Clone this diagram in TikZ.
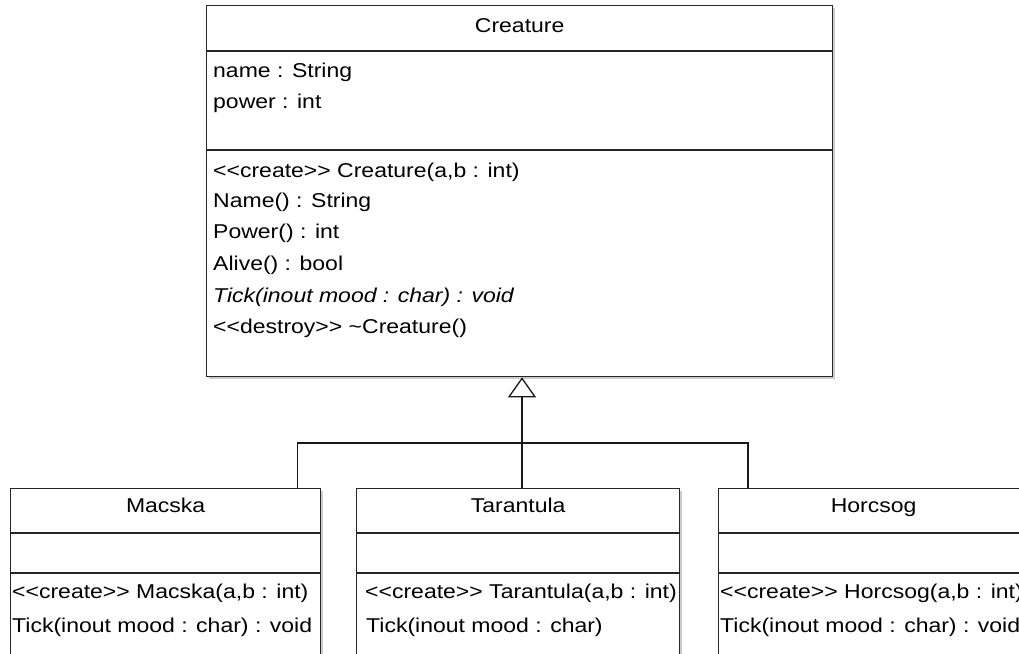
\documentclass[tikz,border=0pt]{standalone}
\usepackage{fontspec}
\setmainfont{Liberation Sans}[FakeStretch=1.15]
\usetikzlibrary{arrows.meta,shadows,calc}
% stereotype in angle brackets, kerned so the brackets never merge into guillemets
\newcommand\stereo[1]{<\kern0pt<#1>\kern0pt>}
\begin{document}
\begin{tikzpicture}[x=1pt,y=-1pt,
  font=\fontsize{20}{24}\selectfont,
  classbox/.style={draw=black!85, line width=1.3pt, fill=white, inner sep=0pt,
    anchor=north west,
    drop shadow={shadow xshift=2pt, shadow yshift=-2pt, fill=black!40, opacity=0.5}},
  compart/.style={draw=black!85, line width=1.3pt},
  title/.style={inner sep=0pt, text height=14pt, text depth=4pt},
  member/.style={anchor=west, inner sep=0pt, text height=14pt, text depth=4pt},
  edge/.style={draw=black!90, line width=1.3pt},
  gen/.style={edge, -{Triangle[open, length=20pt, width=28pt, line width=1.3pt]}}]
\useasboundingbox (0,0) rectangle (1019,653);
\clip (0,0) rectangle (1019,653);

% ---------- base class ----------
\node[classbox, minimum width=626pt, minimum height=371pt] (creature) at (206,5) {};
\draw[compart] ($(creature.north west)+(0,46)$) -- ($(creature.north east)+(0,46)$);
\draw[compart] ($(creature.north west)+(0,145)$) -- ($(creature.north east)+(0,145)$);
\node[title] (creature-title) at ($(creature.north)+(0,22)$) {Creature};
\node[member] (c-a1) at (213,72)  {name : String};
\node[member] (c-a2) at (213,103) {power : int};
\node[member] (c-m1) at (213,172) {\stereo{create} Creature(a,b : int)};
\node[member] (c-m2) at (213,202) {Name() : String};
\node[member] (c-m3) at (213,233) {Power() : int};
\node[member] (c-m4) at (213,265) {Alive() : bool};
\node[member] (c-m5) at (213,297) {\itshape Tick(inout mood : char) : void};
\node[member] (c-m6) at (213,328) {\stereo{destroy} \textasciitilde Creature()};

% ---------- derived classes ----------
\node[classbox, minimum width=310pt, minimum height=220pt] (macska) at (10,488) {};
\draw[compart] ($(macska.north west)+(0,45)$) -- ($(macska.north east)+(0,45)$);
\draw[compart] ($(macska.north west)+(0,85)$) -- ($(macska.north east)+(0,85)$);
\node[title] (macska-title) at ($(macska.north)+(0,19)$) {Macska};
\node[member] (m-m1) at (12,593) {\stereo{create} Macska(a,b : int)};
\node[member] (m-m2) at (12,627) {Tick(inout mood : char) : void};

\node[classbox, minimum width=323pt, minimum height=220pt] (tarantula) at (356,488) {};
\draw[compart] ($(tarantula.north west)+(0,45)$) -- ($(tarantula.north east)+(0,45)$);
\draw[compart] ($(tarantula.north west)+(0,85)$) -- ($(tarantula.north east)+(0,85)$);
\node[title] (tarantula-title) at ($(tarantula.north)+(0,19)$) {Tarantula};
\node[member] (t-m1) at (365,593) {\stereo{create} Tarantula(a,b : int)};
\node[member] (t-m2) at (366,627) {Tick(inout mood : char)};

\node[classbox, minimum width=310pt, minimum height=220pt] (horcsog) at (718,488) {};
\draw[compart] ($(horcsog.north west)+(0,45)$) -- ($(horcsog.north east)+(0,45)$);
\draw[compart] ($(horcsog.north west)+(0,85)$) -- ($(horcsog.north east)+(0,85)$);
\node[title] (horcsog-title) at ($(horcsog.north)+(0,19)$) {Horcsog};
\node[member] (h-m1) at (720,593) {\stereo{create} Horcsog(a,b : int)};
\node[member] (h-m2) at (720,627) {Tick(inout mood : char) : void};

% ---------- generalization ----------
\coordinate (bus) at (522,443);
\draw[edge] ($(macska.north east)+(-24,0)$) |- (bus);
\draw[edge] ($(horcsog.north west)+(30,0)$) |- (bus);
\draw[gen] (tarantula.north -| bus) -- (creature.south -| bus);
\end{tikzpicture}
\end{document}
